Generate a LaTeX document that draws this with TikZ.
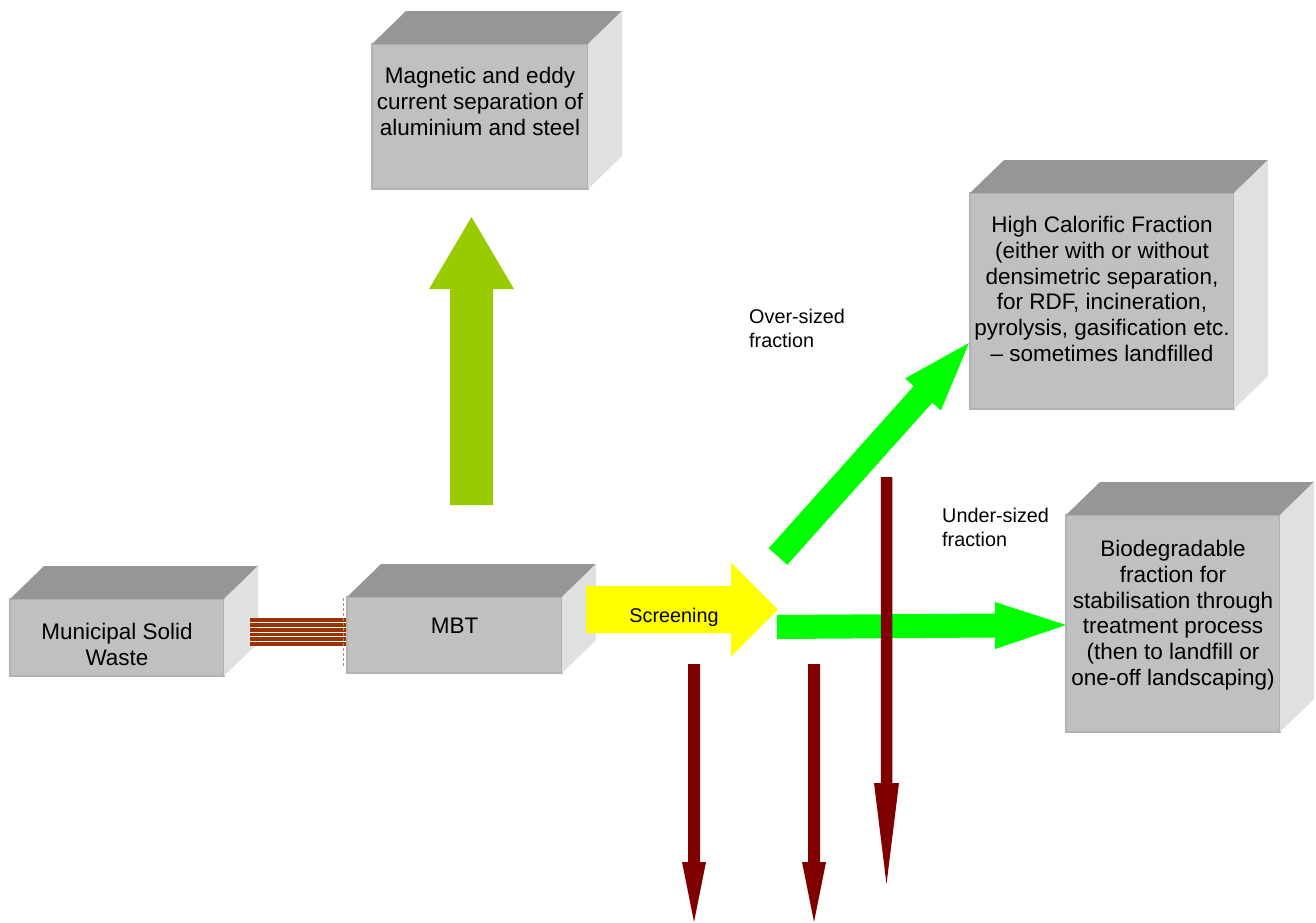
\documentclass[tikz,border=0pt]{standalone}
\usepackage{fontspec}
\setmainfont{Liberation Sans}
\usetikzlibrary{calc}

\definecolor{topface}{HTML}{969696}
\definecolor{frontface}{HTML}{C0C0C0}
\definecolor{sideface}{HTML}{E0E0E0}
\definecolor{edgegray}{HTML}{B2B2B2}
\definecolor{limegreen}{HTML}{99CC00}
\definecolor{brightgreen}{HTML}{00FF00}
\definecolor{screenyellow}{HTML}{FFFF00}
\definecolor{darkred}{HTML}{800000}
\definecolor{rust}{HTML}{993300}

% depth of the extruded boxes
\def\cdx{34}
\def\cdy{33}

% block arrow: #1 style, #2 tail, #3 tip, #4 shaft half width, #5 head half width, #6 head length
\newcommand\fatarrow[6]{%
  \coordinate (fa-hb) at ($(#3)!#6!(#2)$);
  \fill[#1] ($(#2)!#4!90:(#3)$) -- ($(fa-hb)!#4!90:(#3)$) -- ($(fa-hb)!#5!90:(#3)$)
    -- (#3) -- ($(fa-hb)!#5!-90:(#3)$) -- ($(fa-hb)!#4!-90:(#3)$)
    -- ($(#2)!#4!-90:(#3)$) -- cycle;}

% top and right faces of a box whose front face is node #1
\newcommand\cubefaces[1]{%
  \fill[topface] (#1.north west) -- ++(\cdx,-\cdy) -- ($(#1.north east)+(\cdx,-\cdy)$)
    -- (#1.north east) -- cycle;
  \fill[sideface] (#1.north east) -- ++(\cdx,-\cdy) -- ($(#1.south east)+(\cdx,-\cdy)$)
    -- (#1.south east) -- cycle;}

\tikzset{
  frontbox/.style={rectangle, fill=frontface, draw=edgegray, line width=1.2pt,
    inner sep=0pt, outer sep=0pt},
  boxtext/.style={font=\fontsize{22.5}{25.8}\selectfont, align=center, inner sep=0pt,
    anchor=north},
  notetext/.style={font=\fontsize{19.8}{23.5}\selectfont, align=left, inner sep=0pt,
    anchor=north west},
}

\begin{document}
\begin{tikzpicture}[x=1pt, y=-1pt]
\useasboundingbox (0,0) rectangle (1316,922);

% ---- boxes ----
\node[frontbox, minimum width=214pt, minimum height=77pt] (msw) at (117,637.5) {};
\cubefaces{msw}
\node[boxtext] (msw-t) at ($(msw.north)+(0,24)$) {Municipal Solid\\Waste};

\node[frontbox, minimum width=215pt, minimum height=76pt] (mbt) at (454.5,635) {};
\cubefaces{mbt}
\node[boxtext] (mbt-t) at ($(mbt.north)+(0,21)$) {MBT};

\node[frontbox, minimum width=216pt, minimum height=145pt] (mag) at (480,116.5) {};
\cubefaces{mag}
\node[boxtext] (mag-t) at ($(mag.north)+(0,23)$)
  {Magnetic and eddy\\current separation of\\aluminium and steel};

\node[frontbox, minimum width=264pt, minimum height=216pt] (hcf) at (1102,301) {};
\cubefaces{hcf}
\node[boxtext] (hcf-t) at ($(hcf.north)+(0,23)$)
  {High Calorific Fraction\\(either with or without\\densimetric separation,\\for RDF, incineration,\\pyrolysis, gasification etc.\\– sometimes landfilled};

\node[frontbox, minimum width=214pt, minimum height=217pt] (bio) at (1173,623.5) {};
\cubefaces{bio}
\node[boxtext] (bio-t) at ($(bio.north)+(0,25)$)
  {Biodegradable\\fraction for\\stabilisation through\\treatment process\\(then to landfill or\\one-off landscaping)};

% ---- striped feed from the waste box into MBT ----
\coordinate (feed-a) at (250,618);
\coordinate (feed-b) at (346,618);
\foreach \k in {0,...,5}{
  \fill[rust] ($(feed-a)+(0,4.85*\k)$) rectangle ($(feed-b)+(0,4.85*\k+3.85)$);
}
\coordinate (feed-d1) at (343.5,598);
\coordinate (feed-d2) at (343.5,668);
\draw[rust!60, line width=1pt, dash pattern=on 3pt off 2pt] (feed-d1) -- (feed-d2);

% ---- arrow up to the metal separation ----
\coordinate (up-tail) at (471.5,505);
\coordinate (up-tip) at (471.5,217);
\fatarrow{limegreen}{up-tail}{up-tip}{21.5pt}{42.5pt}{72pt}

% ---- screening arrow ----
\coordinate (scr-tail) at (586,609.5);
\coordinate (scr-tip) at (778,609.5);
\fatarrow{screenyellow}{scr-tail}{scr-tip}{23.5pt}{47pt}{47pt}
\node[font=\fontsize{19.8}{23.5}\selectfont, inner sep=0pt, anchor=base] (scr-t)
  at (674,622) {Screening};

% ---- over-sized and under-sized fractions ----
\coordinate (ovr-tail) at (778,556.5);
\coordinate (ovr-tip) at (969,343);
\fatarrow{brightgreen}{ovr-tail}{ovr-tip}{12.4pt}{24pt}{69pt}

\coordinate (und-tail) at (777,627);
\coordinate (und-tip) at (1066,625);
\fatarrow{brightgreen}{und-tail}{und-tip}{12pt}{23.5pt}{71pt}

\node[notetext] (ovr-t) at (749,309) {Over-sized\\fraction};
\node[notetext] (und-t) at (942,508) {Under-sized\\fraction};

% ---- downward outputs ----
\coordinate (d1-tail) at (694,664);
\coordinate (d1-tip) at (694,922);
\fatarrow{darkred}{d1-tail}{d1-tip}{6pt}{12pt}{60pt}

\coordinate (d2-tail) at (814,664);
\coordinate (d2-tip) at (814,922);
\fatarrow{darkred}{d2-tail}{d2-tip}{6pt}{12pt}{60pt}

\coordinate (d3-tail) at (886.5,477);
\coordinate (d3-tip) at (886.5,884);
\fatarrow{darkred}{d3-tail}{d3-tip}{5.75pt}{12.5pt}{101pt}
\end{tikzpicture}
\end{document}
